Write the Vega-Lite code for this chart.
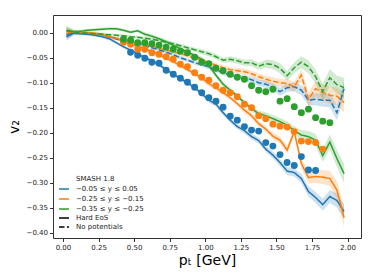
{
  "$schema": "https://vega.github.io/schema/vega-lite/v6.json",
  "width": 308,
  "height": 223,
  "autosize": "none",
  "padding": {"left": 53, "top": 15, "right": 13, "bottom": 42},
  "background": "white",
  "config": {
    "font": "DejaVu Sans",
    "view": {"stroke": "#333", "strokeWidth": 1},
    "axis": {"grid": false, "domain": false, "tickColor": "#333", "tickSize": 3.5, "labelFontSize": 7, "labelColor": "#222", "titleFontWeight": "normal", "titleColor": "#000", "titleFontSize": 14}
  },
  "datasets": {
    "lines": [
      {"x":0.025,"y":-0.008,"e":0.008,"bin":"−0.05 ≤ y ≤ 0.05","model":"Hard EoS"},
      {"x":0.075,"y":-0.001,"e":0.004,"bin":"−0.05 ≤ y ≤ 0.05","model":"Hard EoS"},
      {"x":0.125,"y":-0.002,"e":0.003,"bin":"−0.05 ≤ y ≤ 0.05","model":"Hard EoS"},
      {"x":0.175,"y":-0.003,"e":0.003,"bin":"−0.05 ≤ y ≤ 0.05","model":"Hard EoS"},
      {"x":0.225,"y":-0.005,"e":0.003,"bin":"−0.05 ≤ y ≤ 0.05","model":"Hard EoS"},
      {"x":0.275,"y":-0.008,"e":0.003,"bin":"−0.05 ≤ y ≤ 0.05","model":"Hard EoS"},
      {"x":0.325,"y":-0.012,"e":0.003,"bin":"−0.05 ≤ y ≤ 0.05","model":"Hard EoS"},
      {"x":0.375,"y":-0.020,"e":0.003,"bin":"−0.05 ≤ y ≤ 0.05","model":"Hard EoS"},
      {"x":0.425,"y":-0.028,"e":0.003,"bin":"−0.05 ≤ y ≤ 0.05","model":"Hard EoS"},
      {"x":0.475,"y":-0.035,"e":0.003,"bin":"−0.05 ≤ y ≤ 0.05","model":"Hard EoS"},
      {"x":0.525,"y":-0.042,"e":0.003,"bin":"−0.05 ≤ y ≤ 0.05","model":"Hard EoS"},
      {"x":0.575,"y":-0.050,"e":0.004,"bin":"−0.05 ≤ y ≤ 0.05","model":"Hard EoS"},
      {"x":0.625,"y":-0.056,"e":0.004,"bin":"−0.05 ≤ y ≤ 0.05","model":"Hard EoS"},
      {"x":0.675,"y":-0.064,"e":0.004,"bin":"−0.05 ≤ y ≤ 0.05","model":"Hard EoS"},
      {"x":0.725,"y":-0.074,"e":0.004,"bin":"−0.05 ≤ y ≤ 0.05","model":"Hard EoS"},
      {"x":0.775,"y":-0.083,"e":0.004,"bin":"−0.05 ≤ y ≤ 0.05","model":"Hard EoS"},
      {"x":0.825,"y":-0.092,"e":0.004,"bin":"−0.05 ≤ y ≤ 0.05","model":"Hard EoS"},
      {"x":0.875,"y":-0.100,"e":0.004,"bin":"−0.05 ≤ y ≤ 0.05","model":"Hard EoS"},
      {"x":0.925,"y":-0.110,"e":0.004,"bin":"−0.05 ≤ y ≤ 0.05","model":"Hard EoS"},
      {"x":0.975,"y":-0.122,"e":0.005,"bin":"−0.05 ≤ y ≤ 0.05","model":"Hard EoS"},
      {"x":1.025,"y":-0.135,"e":0.005,"bin":"−0.05 ≤ y ≤ 0.05","model":"Hard EoS"},
      {"x":1.075,"y":-0.143,"e":0.005,"bin":"−0.05 ≤ y ≤ 0.05","model":"Hard EoS"},
      {"x":1.125,"y":-0.160,"e":0.005,"bin":"−0.05 ≤ y ≤ 0.05","model":"Hard EoS"},
      {"x":1.175,"y":-0.175,"e":0.005,"bin":"−0.05 ≤ y ≤ 0.05","model":"Hard EoS"},
      {"x":1.225,"y":-0.188,"e":0.005,"bin":"−0.05 ≤ y ≤ 0.05","model":"Hard EoS"},
      {"x":1.275,"y":-0.196,"e":0.006,"bin":"−0.05 ≤ y ≤ 0.05","model":"Hard EoS"},
      {"x":1.325,"y":-0.208,"e":0.006,"bin":"−0.05 ≤ y ≤ 0.05","model":"Hard EoS"},
      {"x":1.375,"y":-0.216,"e":0.006,"bin":"−0.05 ≤ y ≤ 0.05","model":"Hard EoS"},
      {"x":1.425,"y":-0.233,"e":0.006,"bin":"−0.05 ≤ y ≤ 0.05","model":"Hard EoS"},
      {"x":1.475,"y":-0.245,"e":0.007,"bin":"−0.05 ≤ y ≤ 0.05","model":"Hard EoS"},
      {"x":1.525,"y":-0.260,"e":0.007,"bin":"−0.05 ≤ y ≤ 0.05","model":"Hard EoS"},
      {"x":1.575,"y":-0.277,"e":0.008,"bin":"−0.05 ≤ y ≤ 0.05","model":"Hard EoS"},
      {"x":1.625,"y":-0.280,"e":0.008,"bin":"−0.05 ≤ y ≤ 0.05","model":"Hard EoS"},
      {"x":1.675,"y":-0.292,"e":0.009,"bin":"−0.05 ≤ y ≤ 0.05","model":"Hard EoS"},
      {"x":1.725,"y":-0.318,"e":0.010,"bin":"−0.05 ≤ y ≤ 0.05","model":"Hard EoS"},
      {"x":1.775,"y":-0.330,"e":0.011,"bin":"−0.05 ≤ y ≤ 0.05","model":"Hard EoS"},
      {"x":1.825,"y":-0.344,"e":0.012,"bin":"−0.05 ≤ y ≤ 0.05","model":"Hard EoS"},
      {"x":1.875,"y":-0.328,"e":0.013,"bin":"−0.05 ≤ y ≤ 0.05","model":"Hard EoS"},
      {"x":1.925,"y":-0.336,"e":0.014,"bin":"−0.05 ≤ y ≤ 0.05","model":"Hard EoS"},
      {"x":1.975,"y":-0.358,"e":0.015,"bin":"−0.05 ≤ y ≤ 0.05","model":"Hard EoS"},

      {"x":0.025,"y":-0.003,"e":0.008,"bin":"−0.25 ≤ y ≤ −0.15","model":"Hard EoS"},
      {"x":0.075,"y":0.002,"e":0.004,"bin":"−0.25 ≤ y ≤ −0.15","model":"Hard EoS"},
      {"x":0.125,"y":0.000,"e":0.003,"bin":"−0.25 ≤ y ≤ −0.15","model":"Hard EoS"},
      {"x":0.175,"y":0.000,"e":0.003,"bin":"−0.25 ≤ y ≤ −0.15","model":"Hard EoS"},
      {"x":0.225,"y":-0.001,"e":0.003,"bin":"−0.25 ≤ y ≤ −0.15","model":"Hard EoS"},
      {"x":0.275,"y":-0.003,"e":0.003,"bin":"−0.25 ≤ y ≤ −0.15","model":"Hard EoS"},
      {"x":0.325,"y":-0.008,"e":0.003,"bin":"−0.25 ≤ y ≤ −0.15","model":"Hard EoS"},
      {"x":0.375,"y":-0.012,"e":0.003,"bin":"−0.25 ≤ y ≤ −0.15","model":"Hard EoS"},
      {"x":0.425,"y":-0.017,"e":0.003,"bin":"−0.25 ≤ y ≤ −0.15","model":"Hard EoS"},
      {"x":0.475,"y":-0.022,"e":0.003,"bin":"−0.25 ≤ y ≤ −0.15","model":"Hard EoS"},
      {"x":0.525,"y":-0.027,"e":0.003,"bin":"−0.25 ≤ y ≤ −0.15","model":"Hard EoS"},
      {"x":0.575,"y":-0.032,"e":0.004,"bin":"−0.25 ≤ y ≤ −0.15","model":"Hard EoS"},
      {"x":0.625,"y":-0.038,"e":0.004,"bin":"−0.25 ≤ y ≤ −0.15","model":"Hard EoS"},
      {"x":0.675,"y":-0.044,"e":0.004,"bin":"−0.25 ≤ y ≤ −0.15","model":"Hard EoS"},
      {"x":0.725,"y":-0.051,"e":0.004,"bin":"−0.25 ≤ y ≤ −0.15","model":"Hard EoS"},
      {"x":0.775,"y":-0.058,"e":0.004,"bin":"−0.25 ≤ y ≤ −0.15","model":"Hard EoS"},
      {"x":0.825,"y":-0.066,"e":0.004,"bin":"−0.25 ≤ y ≤ −0.15","model":"Hard EoS"},
      {"x":0.875,"y":-0.074,"e":0.004,"bin":"−0.25 ≤ y ≤ −0.15","model":"Hard EoS"},
      {"x":0.925,"y":-0.082,"e":0.004,"bin":"−0.25 ≤ y ≤ −0.15","model":"Hard EoS"},
      {"x":0.975,"y":-0.091,"e":0.005,"bin":"−0.25 ≤ y ≤ −0.15","model":"Hard EoS"},
      {"x":1.025,"y":-0.102,"e":0.005,"bin":"−0.25 ≤ y ≤ −0.15","model":"Hard EoS"},
      {"x":1.075,"y":-0.110,"e":0.005,"bin":"−0.25 ≤ y ≤ −0.15","model":"Hard EoS"},
      {"x":1.125,"y":-0.120,"e":0.005,"bin":"−0.25 ≤ y ≤ −0.15","model":"Hard EoS"},
      {"x":1.175,"y":-0.130,"e":0.005,"bin":"−0.25 ≤ y ≤ −0.15","model":"Hard EoS"},
      {"x":1.225,"y":-0.142,"e":0.005,"bin":"−0.25 ≤ y ≤ −0.15","model":"Hard EoS"},
      {"x":1.275,"y":-0.155,"e":0.006,"bin":"−0.25 ≤ y ≤ −0.15","model":"Hard EoS"},
      {"x":1.325,"y":-0.166,"e":0.006,"bin":"−0.25 ≤ y ≤ −0.15","model":"Hard EoS"},
      {"x":1.375,"y":-0.182,"e":0.006,"bin":"−0.25 ≤ y ≤ −0.15","model":"Hard EoS"},
      {"x":1.425,"y":-0.193,"e":0.006,"bin":"−0.25 ≤ y ≤ −0.15","model":"Hard EoS"},
      {"x":1.475,"y":-0.207,"e":0.007,"bin":"−0.25 ≤ y ≤ −0.15","model":"Hard EoS"},
      {"x":1.525,"y":-0.215,"e":0.007,"bin":"−0.25 ≤ y ≤ −0.15","model":"Hard EoS"},
      {"x":1.575,"y":-0.235,"e":0.008,"bin":"−0.25 ≤ y ≤ −0.15","model":"Hard EoS"},
      {"x":1.625,"y":-0.198,"e":0.008,"bin":"−0.25 ≤ y ≤ −0.15","model":"Hard EoS"},
      {"x":1.675,"y":-0.262,"e":0.010,"bin":"−0.25 ≤ y ≤ −0.15","model":"Hard EoS"},
      {"x":1.725,"y":-0.290,"e":0.012,"bin":"−0.25 ≤ y ≤ −0.15","model":"Hard EoS"},
      {"x":1.775,"y":-0.288,"e":0.013,"bin":"−0.25 ≤ y ≤ −0.15","model":"Hard EoS"},
      {"x":1.825,"y":-0.289,"e":0.014,"bin":"−0.25 ≤ y ≤ −0.15","model":"Hard EoS"},
      {"x":1.875,"y":-0.292,"e":0.015,"bin":"−0.25 ≤ y ≤ −0.15","model":"Hard EoS"},
      {"x":1.925,"y":-0.315,"e":0.018,"bin":"−0.25 ≤ y ≤ −0.15","model":"Hard EoS"},
      {"x":1.975,"y":-0.370,"e":0.020,"bin":"−0.25 ≤ y ≤ −0.15","model":"Hard EoS"},

      {"x":0.025,"y":0.005,"e":0.009,"bin":"−0.35 ≤ y ≤ −0.25","model":"Hard EoS"},
      {"x":0.075,"y":0.002,"e":0.004,"bin":"−0.35 ≤ y ≤ −0.25","model":"Hard EoS"},
      {"x":0.125,"y":0.003,"e":0.003,"bin":"−0.35 ≤ y ≤ −0.25","model":"Hard EoS"},
      {"x":0.175,"y":0.005,"e":0.003,"bin":"−0.35 ≤ y ≤ −0.25","model":"Hard EoS"},
      {"x":0.225,"y":0.006,"e":0.003,"bin":"−0.35 ≤ y ≤ −0.25","model":"Hard EoS"},
      {"x":0.275,"y":0.007,"e":0.003,"bin":"−0.35 ≤ y ≤ −0.25","model":"Hard EoS"},
      {"x":0.325,"y":0.008,"e":0.003,"bin":"−0.35 ≤ y ≤ −0.25","model":"Hard EoS"},
      {"x":0.375,"y":0.008,"e":0.003,"bin":"−0.35 ≤ y ≤ −0.25","model":"Hard EoS"},
      {"x":0.425,"y":0.005,"e":0.003,"bin":"−0.35 ≤ y ≤ −0.25","model":"Hard EoS"},
      {"x":0.475,"y":0.001,"e":0.003,"bin":"−0.35 ≤ y ≤ −0.25","model":"Hard EoS"},
      {"x":0.525,"y":0.004,"e":0.003,"bin":"−0.35 ≤ y ≤ −0.25","model":"Hard EoS"},
      {"x":0.575,"y":-0.003,"e":0.004,"bin":"−0.35 ≤ y ≤ −0.25","model":"Hard EoS"},
      {"x":0.625,"y":-0.007,"e":0.004,"bin":"−0.35 ≤ y ≤ −0.25","model":"Hard EoS"},
      {"x":0.675,"y":-0.012,"e":0.004,"bin":"−0.35 ≤ y ≤ −0.25","model":"Hard EoS"},
      {"x":0.725,"y":-0.018,"e":0.004,"bin":"−0.35 ≤ y ≤ −0.25","model":"Hard EoS"},
      {"x":0.775,"y":-0.025,"e":0.004,"bin":"−0.35 ≤ y ≤ −0.25","model":"Hard EoS"},
      {"x":0.825,"y":-0.032,"e":0.004,"bin":"−0.35 ≤ y ≤ −0.25","model":"Hard EoS"},
      {"x":0.875,"y":-0.039,"e":0.004,"bin":"−0.35 ≤ y ≤ −0.25","model":"Hard EoS"},
      {"x":0.925,"y":-0.045,"e":0.004,"bin":"−0.35 ≤ y ≤ −0.25","model":"Hard EoS"},
      {"x":0.975,"y":-0.053,"e":0.005,"bin":"−0.35 ≤ y ≤ −0.25","model":"Hard EoS"},
      {"x":1.025,"y":-0.066,"e":0.005,"bin":"−0.35 ≤ y ≤ −0.25","model":"Hard EoS"},
      {"x":1.075,"y":-0.085,"e":0.005,"bin":"−0.35 ≤ y ≤ −0.25","model":"Hard EoS"},
      {"x":1.125,"y":-0.103,"e":0.005,"bin":"−0.35 ≤ y ≤ −0.25","model":"Hard EoS"},
      {"x":1.175,"y":-0.115,"e":0.005,"bin":"−0.35 ≤ y ≤ −0.25","model":"Hard EoS"},
      {"x":1.225,"y":-0.127,"e":0.005,"bin":"−0.35 ≤ y ≤ −0.25","model":"Hard EoS"},
      {"x":1.275,"y":-0.140,"e":0.006,"bin":"−0.35 ≤ y ≤ −0.25","model":"Hard EoS"},
      {"x":1.325,"y":-0.152,"e":0.006,"bin":"−0.35 ≤ y ≤ −0.25","model":"Hard EoS"},
      {"x":1.375,"y":-0.162,"e":0.006,"bin":"−0.35 ≤ y ≤ −0.25","model":"Hard EoS"},
      {"x":1.425,"y":-0.166,"e":0.007,"bin":"−0.35 ≤ y ≤ −0.25","model":"Hard EoS"},
      {"x":1.475,"y":-0.172,"e":0.007,"bin":"−0.35 ≤ y ≤ −0.25","model":"Hard EoS"},
      {"x":1.525,"y":-0.178,"e":0.008,"bin":"−0.35 ≤ y ≤ −0.25","model":"Hard EoS"},
      {"x":1.575,"y":-0.185,"e":0.008,"bin":"−0.35 ≤ y ≤ −0.25","model":"Hard EoS"},
      {"x":1.625,"y":-0.196,"e":0.009,"bin":"−0.35 ≤ y ≤ −0.25","model":"Hard EoS"},
      {"x":1.675,"y":-0.205,"e":0.010,"bin":"−0.35 ≤ y ≤ −0.25","model":"Hard EoS"},
      {"x":1.725,"y":-0.208,"e":0.011,"bin":"−0.35 ≤ y ≤ −0.25","model":"Hard EoS"},
      {"x":1.775,"y":-0.215,"e":0.012,"bin":"−0.35 ≤ y ≤ −0.25","model":"Hard EoS"},
      {"x":1.825,"y":-0.246,"e":0.013,"bin":"−0.35 ≤ y ≤ −0.25","model":"Hard EoS"},
      {"x":1.875,"y":-0.219,"e":0.015,"bin":"−0.35 ≤ y ≤ −0.25","model":"Hard EoS"},
      {"x":1.925,"y":-0.252,"e":0.017,"bin":"−0.35 ≤ y ≤ −0.25","model":"Hard EoS"},
      {"x":1.975,"y":-0.282,"e":0.019,"bin":"−0.35 ≤ y ≤ −0.25","model":"Hard EoS"},

      {"x":0.025,"y":-0.005,"e":0.008,"bin":"−0.05 ≤ y ≤ 0.05","model":"No potentials"},
      {"x":0.075,"y":0.000,"e":0.004,"bin":"−0.05 ≤ y ≤ 0.05","model":"No potentials"},
      {"x":0.125,"y":-0.001,"e":0.003,"bin":"−0.05 ≤ y ≤ 0.05","model":"No potentials"},
      {"x":0.175,"y":-0.002,"e":0.003,"bin":"−0.05 ≤ y ≤ 0.05","model":"No potentials"},
      {"x":0.225,"y":-0.003,"e":0.003,"bin":"−0.05 ≤ y ≤ 0.05","model":"No potentials"},
      {"x":0.275,"y":-0.005,"e":0.003,"bin":"−0.05 ≤ y ≤ 0.05","model":"No potentials"},
      {"x":0.325,"y":-0.008,"e":0.003,"bin":"−0.05 ≤ y ≤ 0.05","model":"No potentials"},
      {"x":0.375,"y":-0.012,"e":0.003,"bin":"−0.05 ≤ y ≤ 0.05","model":"No potentials"},
      {"x":0.425,"y":-0.015,"e":0.003,"bin":"−0.05 ≤ y ≤ 0.05","model":"No potentials"},
      {"x":0.475,"y":-0.019,"e":0.003,"bin":"−0.05 ≤ y ≤ 0.05","model":"No potentials"},
      {"x":0.525,"y":-0.022,"e":0.003,"bin":"−0.05 ≤ y ≤ 0.05","model":"No potentials"},
      {"x":0.575,"y":-0.026,"e":0.003,"bin":"−0.05 ≤ y ≤ 0.05","model":"No potentials"},
      {"x":0.625,"y":-0.030,"e":0.003,"bin":"−0.05 ≤ y ≤ 0.05","model":"No potentials"},
      {"x":0.675,"y":-0.034,"e":0.003,"bin":"−0.05 ≤ y ≤ 0.05","model":"No potentials"},
      {"x":0.725,"y":-0.039,"e":0.003,"bin":"−0.05 ≤ y ≤ 0.05","model":"No potentials"},
      {"x":0.775,"y":-0.044,"e":0.004,"bin":"−0.05 ≤ y ≤ 0.05","model":"No potentials"},
      {"x":0.825,"y":-0.050,"e":0.004,"bin":"−0.05 ≤ y ≤ 0.05","model":"No potentials"},
      {"x":0.875,"y":-0.055,"e":0.004,"bin":"−0.05 ≤ y ≤ 0.05","model":"No potentials"},
      {"x":0.925,"y":-0.060,"e":0.004,"bin":"−0.05 ≤ y ≤ 0.05","model":"No potentials"},
      {"x":0.975,"y":-0.064,"e":0.004,"bin":"−0.05 ≤ y ≤ 0.05","model":"No potentials"},
      {"x":1.025,"y":-0.068,"e":0.005,"bin":"−0.05 ≤ y ≤ 0.05","model":"No potentials"},
      {"x":1.075,"y":-0.074,"e":0.005,"bin":"−0.05 ≤ y ≤ 0.05","model":"No potentials"},
      {"x":1.125,"y":-0.080,"e":0.005,"bin":"−0.05 ≤ y ≤ 0.05","model":"No potentials"},
      {"x":1.175,"y":-0.085,"e":0.005,"bin":"−0.05 ≤ y ≤ 0.05","model":"No potentials"},
      {"x":1.225,"y":-0.088,"e":0.005,"bin":"−0.05 ≤ y ≤ 0.05","model":"No potentials"},
      {"x":1.275,"y":-0.091,"e":0.006,"bin":"−0.05 ≤ y ≤ 0.05","model":"No potentials"},
      {"x":1.325,"y":-0.094,"e":0.006,"bin":"−0.05 ≤ y ≤ 0.05","model":"No potentials"},
      {"x":1.375,"y":-0.100,"e":0.006,"bin":"−0.05 ≤ y ≤ 0.05","model":"No potentials"},
      {"x":1.425,"y":-0.103,"e":0.007,"bin":"−0.05 ≤ y ≤ 0.05","model":"No potentials"},
      {"x":1.475,"y":-0.108,"e":0.007,"bin":"−0.05 ≤ y ≤ 0.05","model":"No potentials"},
      {"x":1.525,"y":-0.118,"e":0.008,"bin":"−0.05 ≤ y ≤ 0.05","model":"No potentials"},
      {"x":1.575,"y":-0.110,"e":0.008,"bin":"−0.05 ≤ y ≤ 0.05","model":"No potentials"},
      {"x":1.625,"y":-0.108,"e":0.009,"bin":"−0.05 ≤ y ≤ 0.05","model":"No potentials"},
      {"x":1.675,"y":-0.115,"e":0.010,"bin":"−0.05 ≤ y ≤ 0.05","model":"No potentials"},
      {"x":1.725,"y":-0.135,"e":0.011,"bin":"−0.05 ≤ y ≤ 0.05","model":"No potentials"},
      {"x":1.775,"y":-0.133,"e":0.012,"bin":"−0.05 ≤ y ≤ 0.05","model":"No potentials"},
      {"x":1.825,"y":-0.135,"e":0.013,"bin":"−0.05 ≤ y ≤ 0.05","model":"No potentials"},
      {"x":1.875,"y":-0.135,"e":0.014,"bin":"−0.05 ≤ y ≤ 0.05","model":"No potentials"},
      {"x":1.925,"y":-0.160,"e":0.015,"bin":"−0.05 ≤ y ≤ 0.05","model":"No potentials"},
      {"x":1.975,"y":-0.112,"e":0.016,"bin":"−0.05 ≤ y ≤ 0.05","model":"No potentials"},

      {"x":0.025,"y":0.002,"e":0.008,"bin":"−0.25 ≤ y ≤ −0.15","model":"No potentials"},
      {"x":0.075,"y":0.001,"e":0.004,"bin":"−0.25 ≤ y ≤ −0.15","model":"No potentials"},
      {"x":0.125,"y":0.000,"e":0.003,"bin":"−0.25 ≤ y ≤ −0.15","model":"No potentials"},
      {"x":0.175,"y":-0.001,"e":0.003,"bin":"−0.25 ≤ y ≤ −0.15","model":"No potentials"},
      {"x":0.225,"y":-0.003,"e":0.003,"bin":"−0.25 ≤ y ≤ −0.15","model":"No potentials"},
      {"x":0.275,"y":-0.005,"e":0.003,"bin":"−0.25 ≤ y ≤ −0.15","model":"No potentials"},
      {"x":0.325,"y":-0.008,"e":0.003,"bin":"−0.25 ≤ y ≤ −0.15","model":"No potentials"},
      {"x":0.375,"y":-0.011,"e":0.003,"bin":"−0.25 ≤ y ≤ −0.15","model":"No potentials"},
      {"x":0.425,"y":-0.014,"e":0.003,"bin":"−0.25 ≤ y ≤ −0.15","model":"No potentials"},
      {"x":0.475,"y":-0.017,"e":0.003,"bin":"−0.25 ≤ y ≤ −0.15","model":"No potentials"},
      {"x":0.525,"y":-0.020,"e":0.003,"bin":"−0.25 ≤ y ≤ −0.15","model":"No potentials"},
      {"x":0.575,"y":-0.023,"e":0.003,"bin":"−0.25 ≤ y ≤ −0.15","model":"No potentials"},
      {"x":0.625,"y":-0.027,"e":0.003,"bin":"−0.25 ≤ y ≤ −0.15","model":"No potentials"},
      {"x":0.675,"y":-0.031,"e":0.003,"bin":"−0.25 ≤ y ≤ −0.15","model":"No potentials"},
      {"x":0.725,"y":-0.035,"e":0.003,"bin":"−0.25 ≤ y ≤ −0.15","model":"No potentials"},
      {"x":0.775,"y":-0.038,"e":0.004,"bin":"−0.25 ≤ y ≤ −0.15","model":"No potentials"},
      {"x":0.825,"y":-0.042,"e":0.004,"bin":"−0.25 ≤ y ≤ −0.15","model":"No potentials"},
      {"x":0.875,"y":-0.046,"e":0.004,"bin":"−0.25 ≤ y ≤ −0.15","model":"No potentials"},
      {"x":0.925,"y":-0.050,"e":0.004,"bin":"−0.25 ≤ y ≤ −0.15","model":"No potentials"},
      {"x":0.975,"y":-0.055,"e":0.004,"bin":"−0.25 ≤ y ≤ −0.15","model":"No potentials"},
      {"x":1.025,"y":-0.060,"e":0.005,"bin":"−0.25 ≤ y ≤ −0.15","model":"No potentials"},
      {"x":1.075,"y":-0.065,"e":0.005,"bin":"−0.25 ≤ y ≤ −0.15","model":"No potentials"},
      {"x":1.125,"y":-0.070,"e":0.005,"bin":"−0.25 ≤ y ≤ −0.15","model":"No potentials"},
      {"x":1.175,"y":-0.074,"e":0.005,"bin":"−0.25 ≤ y ≤ −0.15","model":"No potentials"},
      {"x":1.225,"y":-0.076,"e":0.006,"bin":"−0.25 ≤ y ≤ −0.15","model":"No potentials"},
      {"x":1.275,"y":-0.078,"e":0.006,"bin":"−0.25 ≤ y ≤ −0.15","model":"No potentials"},
      {"x":1.325,"y":-0.082,"e":0.006,"bin":"−0.25 ≤ y ≤ −0.15","model":"No potentials"},
      {"x":1.375,"y":-0.088,"e":0.007,"bin":"−0.25 ≤ y ≤ −0.15","model":"No potentials"},
      {"x":1.425,"y":-0.093,"e":0.007,"bin":"−0.25 ≤ y ≤ −0.15","model":"No potentials"},
      {"x":1.475,"y":-0.097,"e":0.008,"bin":"−0.25 ≤ y ≤ −0.15","model":"No potentials"},
      {"x":1.525,"y":-0.100,"e":0.008,"bin":"−0.25 ≤ y ≤ −0.15","model":"No potentials"},
      {"x":1.575,"y":-0.102,"e":0.009,"bin":"−0.25 ≤ y ≤ −0.15","model":"No potentials"},
      {"x":1.625,"y":-0.108,"e":0.010,"bin":"−0.25 ≤ y ≤ −0.15","model":"No potentials"},
      {"x":1.675,"y":-0.085,"e":0.012,"bin":"−0.25 ≤ y ≤ −0.15","model":"No potentials"},
      {"x":1.725,"y":-0.133,"e":0.014,"bin":"−0.25 ≤ y ≤ −0.15","model":"No potentials"},
      {"x":1.775,"y":-0.112,"e":0.015,"bin":"−0.25 ≤ y ≤ −0.15","model":"No potentials"},
      {"x":1.825,"y":-0.120,"e":0.016,"bin":"−0.25 ≤ y ≤ −0.15","model":"No potentials"},
      {"x":1.875,"y":-0.125,"e":0.017,"bin":"−0.25 ≤ y ≤ −0.15","model":"No potentials"},
      {"x":1.925,"y":-0.127,"e":0.018,"bin":"−0.25 ≤ y ≤ −0.15","model":"No potentials"},
      {"x":1.975,"y":-0.140,"e":0.020,"bin":"−0.25 ≤ y ≤ −0.15","model":"No potentials"},

      {"x":0.025,"y":0.004,"e":0.008,"bin":"−0.35 ≤ y ≤ −0.25","model":"No potentials"},
      {"x":0.075,"y":0.001,"e":0.004,"bin":"−0.35 ≤ y ≤ −0.25","model":"No potentials"},
      {"x":0.125,"y":0.000,"e":0.003,"bin":"−0.35 ≤ y ≤ −0.25","model":"No potentials"},
      {"x":0.175,"y":-0.001,"e":0.003,"bin":"−0.35 ≤ y ≤ −0.25","model":"No potentials"},
      {"x":0.225,"y":-0.002,"e":0.003,"bin":"−0.35 ≤ y ≤ −0.25","model":"No potentials"},
      {"x":0.275,"y":-0.003,"e":0.003,"bin":"−0.35 ≤ y ≤ −0.25","model":"No potentials"},
      {"x":0.325,"y":-0.004,"e":0.003,"bin":"−0.35 ≤ y ≤ −0.25","model":"No potentials"},
      {"x":0.375,"y":-0.005,"e":0.003,"bin":"−0.35 ≤ y ≤ −0.25","model":"No potentials"},
      {"x":0.425,"y":-0.006,"e":0.003,"bin":"−0.35 ≤ y ≤ −0.25","model":"No potentials"},
      {"x":0.475,"y":-0.008,"e":0.003,"bin":"−0.35 ≤ y ≤ −0.25","model":"No potentials"},
      {"x":0.525,"y":-0.009,"e":0.003,"bin":"−0.35 ≤ y ≤ −0.25","model":"No potentials"},
      {"x":0.575,"y":-0.011,"e":0.003,"bin":"−0.35 ≤ y ≤ −0.25","model":"No potentials"},
      {"x":0.625,"y":-0.013,"e":0.003,"bin":"−0.35 ≤ y ≤ −0.25","model":"No potentials"},
      {"x":0.675,"y":-0.016,"e":0.003,"bin":"−0.35 ≤ y ≤ −0.25","model":"No potentials"},
      {"x":0.725,"y":-0.019,"e":0.004,"bin":"−0.35 ≤ y ≤ −0.25","model":"No potentials"},
      {"x":0.775,"y":-0.022,"e":0.004,"bin":"−0.35 ≤ y ≤ −0.25","model":"No potentials"},
      {"x":0.825,"y":-0.026,"e":0.004,"bin":"−0.35 ≤ y ≤ −0.25","model":"No potentials"},
      {"x":0.875,"y":-0.030,"e":0.004,"bin":"−0.35 ≤ y ≤ −0.25","model":"No potentials"},
      {"x":0.925,"y":-0.034,"e":0.004,"bin":"−0.35 ≤ y ≤ −0.25","model":"No potentials"},
      {"x":0.975,"y":-0.038,"e":0.005,"bin":"−0.35 ≤ y ≤ −0.25","model":"No potentials"},
      {"x":1.025,"y":-0.042,"e":0.005,"bin":"−0.35 ≤ y ≤ −0.25","model":"No potentials"},
      {"x":1.075,"y":-0.048,"e":0.005,"bin":"−0.35 ≤ y ≤ −0.25","model":"No potentials"},
      {"x":1.125,"y":-0.055,"e":0.005,"bin":"−0.35 ≤ y ≤ −0.25","model":"No potentials"},
      {"x":1.175,"y":-0.053,"e":0.006,"bin":"−0.35 ≤ y ≤ −0.25","model":"No potentials"},
      {"x":1.225,"y":-0.056,"e":0.006,"bin":"−0.35 ≤ y ≤ −0.25","model":"No potentials"},
      {"x":1.275,"y":-0.060,"e":0.006,"bin":"−0.35 ≤ y ≤ −0.25","model":"No potentials"},
      {"x":1.325,"y":-0.060,"e":0.007,"bin":"−0.35 ≤ y ≤ −0.25","model":"No potentials"},
      {"x":1.375,"y":-0.067,"e":0.007,"bin":"−0.35 ≤ y ≤ −0.25","model":"No potentials"},
      {"x":1.425,"y":-0.062,"e":0.008,"bin":"−0.35 ≤ y ≤ −0.25","model":"No potentials"},
      {"x":1.475,"y":-0.064,"e":0.009,"bin":"−0.35 ≤ y ≤ −0.25","model":"No potentials"},
      {"x":1.525,"y":-0.071,"e":0.010,"bin":"−0.35 ≤ y ≤ −0.25","model":"No potentials"},
      {"x":1.575,"y":-0.086,"e":0.010,"bin":"−0.35 ≤ y ≤ −0.25","model":"No potentials"},
      {"x":1.625,"y":-0.070,"e":0.011,"bin":"−0.35 ≤ y ≤ −0.25","model":"No potentials"},
      {"x":1.675,"y":-0.059,"e":0.012,"bin":"−0.35 ≤ y ≤ −0.25","model":"No potentials"},
      {"x":1.725,"y":-0.068,"e":0.013,"bin":"−0.35 ≤ y ≤ −0.25","model":"No potentials"},
      {"x":1.775,"y":-0.088,"e":0.014,"bin":"−0.35 ≤ y ≤ −0.25","model":"No potentials"},
      {"x":1.825,"y":-0.118,"e":0.016,"bin":"−0.35 ≤ y ≤ −0.25","model":"No potentials"},
      {"x":1.875,"y":-0.090,"e":0.017,"bin":"−0.35 ≤ y ≤ −0.25","model":"No potentials"},
      {"x":1.925,"y":-0.104,"e":0.018,"bin":"−0.35 ≤ y ≤ −0.25","model":"No potentials"},
      {"x":1.975,"y":-0.110,"e":0.020,"bin":"−0.35 ≤ y ≤ −0.25","model":"No potentials"}
    ],
    "points": [
      {"x":0.475,"y":-0.039,"bin":"−0.05 ≤ y ≤ 0.05"},
      {"x":0.525,"y":-0.045,"bin":"−0.05 ≤ y ≤ 0.05"},
      {"x":0.575,"y":-0.051,"bin":"−0.05 ≤ y ≤ 0.05"},
      {"x":0.625,"y":-0.059,"bin":"−0.05 ≤ y ≤ 0.05"},
      {"x":0.675,"y":-0.061,"bin":"−0.05 ≤ y ≤ 0.05"},
      {"x":0.725,"y":-0.075,"bin":"−0.05 ≤ y ≤ 0.05"},
      {"x":0.775,"y":-0.083,"bin":"−0.05 ≤ y ≤ 0.05"},
      {"x":0.825,"y":-0.091,"bin":"−0.05 ≤ y ≤ 0.05"},
      {"x":0.875,"y":-0.099,"bin":"−0.05 ≤ y ≤ 0.05"},
      {"x":0.925,"y":-0.109,"bin":"−0.05 ≤ y ≤ 0.05"},
      {"x":0.975,"y":-0.120,"bin":"−0.05 ≤ y ≤ 0.05"},
      {"x":1.025,"y":-0.130,"bin":"−0.05 ≤ y ≤ 0.05"},
      {"x":1.075,"y":-0.137,"bin":"−0.05 ≤ y ≤ 0.05"},
      {"x":1.125,"y":-0.149,"bin":"−0.05 ≤ y ≤ 0.05"},
      {"x":1.175,"y":-0.167,"bin":"−0.05 ≤ y ≤ 0.05"},
      {"x":1.225,"y":-0.175,"bin":"−0.05 ≤ y ≤ 0.05"},
      {"x":1.275,"y":-0.188,"bin":"−0.05 ≤ y ≤ 0.05"},
      {"x":1.325,"y":-0.195,"bin":"−0.05 ≤ y ≤ 0.05"},
      {"x":1.375,"y":-0.197,"bin":"−0.05 ≤ y ≤ 0.05"},
      {"x":1.425,"y":-0.220,"bin":"−0.05 ≤ y ≤ 0.05"},
      {"x":1.475,"y":-0.227,"bin":"−0.05 ≤ y ≤ 0.05"},
      {"x":1.525,"y":-0.244,"bin":"−0.05 ≤ y ≤ 0.05"},
      {"x":1.575,"y":-0.260,"bin":"−0.05 ≤ y ≤ 0.05"},
      {"x":1.625,"y":-0.266,"bin":"−0.05 ≤ y ≤ 0.05"},
      {"x":1.675,"y":-0.248,"bin":"−0.05 ≤ y ≤ 0.05"},
      {"x":1.725,"y":-0.275,"bin":"−0.05 ≤ y ≤ 0.05"},
      {"x":1.775,"y":-0.276,"bin":"−0.05 ≤ y ≤ 0.05"},

      {"x":0.425,"y":-0.019,"bin":"−0.25 ≤ y ≤ −0.15"},
      {"x":0.475,"y":-0.023,"bin":"−0.25 ≤ y ≤ −0.15"},
      {"x":0.525,"y":-0.033,"bin":"−0.25 ≤ y ≤ −0.15"},
      {"x":0.575,"y":-0.033,"bin":"−0.25 ≤ y ≤ −0.15"},
      {"x":0.625,"y":-0.040,"bin":"−0.25 ≤ y ≤ −0.15"},
      {"x":0.675,"y":-0.043,"bin":"−0.25 ≤ y ≤ −0.15"},
      {"x":0.725,"y":-0.048,"bin":"−0.25 ≤ y ≤ −0.15"},
      {"x":0.775,"y":-0.053,"bin":"−0.25 ≤ y ≤ −0.15"},
      {"x":0.825,"y":-0.063,"bin":"−0.25 ≤ y ≤ −0.15"},
      {"x":0.875,"y":-0.068,"bin":"−0.25 ≤ y ≤ −0.15"},
      {"x":0.925,"y":-0.080,"bin":"−0.25 ≤ y ≤ −0.15"},
      {"x":0.975,"y":-0.089,"bin":"−0.25 ≤ y ≤ −0.15"},
      {"x":1.025,"y":-0.095,"bin":"−0.25 ≤ y ≤ −0.15"},
      {"x":1.075,"y":-0.106,"bin":"−0.25 ≤ y ≤ −0.15"},
      {"x":1.125,"y":-0.115,"bin":"−0.25 ≤ y ≤ −0.15"},
      {"x":1.175,"y":-0.120,"bin":"−0.25 ≤ y ≤ −0.15"},
      {"x":1.225,"y":-0.128,"bin":"−0.25 ≤ y ≤ −0.15"},
      {"x":1.275,"y":-0.143,"bin":"−0.25 ≤ y ≤ −0.15"},
      {"x":1.325,"y":-0.150,"bin":"−0.25 ≤ y ≤ −0.15"},
      {"x":1.375,"y":-0.166,"bin":"−0.25 ≤ y ≤ −0.15"},
      {"x":1.425,"y":-0.172,"bin":"−0.25 ≤ y ≤ −0.15"},
      {"x":1.475,"y":-0.183,"bin":"−0.25 ≤ y ≤ −0.15"},
      {"x":1.525,"y":-0.187,"bin":"−0.25 ≤ y ≤ −0.15"},
      {"x":1.575,"y":-0.189,"bin":"−0.25 ≤ y ≤ −0.15"},
      {"x":1.625,"y":-0.198,"bin":"−0.25 ≤ y ≤ −0.15"},
      {"x":1.675,"y":-0.217,"bin":"−0.25 ≤ y ≤ −0.15"},
      {"x":1.725,"y":-0.218,"bin":"−0.25 ≤ y ≤ −0.15"},
      {"x":1.775,"y":-0.220,"bin":"−0.25 ≤ y ≤ −0.15"},
      {"x":1.825,"y":-0.233,"bin":"−0.25 ≤ y ≤ −0.15"},

      {"x":0.425,"y":-0.013,"bin":"−0.35 ≤ y ≤ −0.25"},
      {"x":0.475,"y":-0.015,"bin":"−0.35 ≤ y ≤ −0.25"},
      {"x":0.525,"y":-0.020,"bin":"−0.35 ≤ y ≤ −0.25"},
      {"x":0.575,"y":-0.020,"bin":"−0.35 ≤ y ≤ −0.25"},
      {"x":0.625,"y":-0.022,"bin":"−0.35 ≤ y ≤ −0.25"},
      {"x":0.675,"y":-0.025,"bin":"−0.35 ≤ y ≤ −0.25"},
      {"x":0.725,"y":-0.029,"bin":"−0.35 ≤ y ≤ −0.25"},
      {"x":0.775,"y":-0.033,"bin":"−0.35 ≤ y ≤ −0.25"},
      {"x":0.825,"y":-0.037,"bin":"−0.35 ≤ y ≤ −0.25"},
      {"x":0.875,"y":-0.040,"bin":"−0.35 ≤ y ≤ −0.25"},
      {"x":0.925,"y":-0.049,"bin":"−0.35 ≤ y ≤ −0.25"},
      {"x":0.975,"y":-0.059,"bin":"−0.35 ≤ y ≤ −0.25"},
      {"x":1.025,"y":-0.062,"bin":"−0.35 ≤ y ≤ −0.25"},
      {"x":1.075,"y":-0.071,"bin":"−0.35 ≤ y ≤ −0.25"},
      {"x":1.125,"y":-0.076,"bin":"−0.35 ≤ y ≤ −0.25"},
      {"x":1.175,"y":-0.083,"bin":"−0.35 ≤ y ≤ −0.25"},
      {"x":1.225,"y":-0.089,"bin":"−0.35 ≤ y ≤ −0.25"},
      {"x":1.275,"y":-0.093,"bin":"−0.35 ≤ y ≤ −0.25"},
      {"x":1.325,"y":-0.106,"bin":"−0.35 ≤ y ≤ −0.25"},
      {"x":1.375,"y":-0.115,"bin":"−0.35 ≤ y ≤ −0.25"},
      {"x":1.425,"y":-0.118,"bin":"−0.35 ≤ y ≤ −0.25"},
      {"x":1.475,"y":-0.113,"bin":"−0.35 ≤ y ≤ −0.25"},
      {"x":1.525,"y":-0.137,"bin":"−0.35 ≤ y ≤ −0.25"},
      {"x":1.575,"y":-0.132,"bin":"−0.35 ≤ y ≤ −0.25"},
      {"x":1.625,"y":-0.148,"bin":"−0.35 ≤ y ≤ −0.25"},
      {"x":1.675,"y":-0.160,"bin":"−0.35 ≤ y ≤ −0.25"},
      {"x":1.725,"y":-0.153,"bin":"−0.35 ≤ y ≤ −0.25"},
      {"x":1.775,"y":-0.170,"bin":"−0.35 ≤ y ≤ −0.25"},
      {"x":1.825,"y":-0.177,"bin":"−0.35 ≤ y ≤ −0.25"},
      {"x":1.875,"y":-0.180,"bin":"−0.35 ≤ y ≤ −0.25"}
    ]
  },
  "encoding": {
    "x": {"field": "x", "type": "quantitative", "scale": {"domain": [-0.07, 2.094], "nice": false, "zero": false},
      "axis": {"values": [0, 0.25, 0.5, 0.75, 1, 1.25, 1.5, 1.75, 2], "format": ".2f", "title": "pₜ [GeV]", "titlePadding": 3}},
    "y": {"field": "y", "type": "quantitative", "scale": {"domain": [-0.411, 0.0355], "nice": false, "zero": false},
      "axis": {"values": [0, -0.05, -0.1, -0.15, -0.2, -0.25, -0.3, -0.35, -0.4], "format": ".2f", "title": "v₂", "titlePadding": 5}},
    "color": {"field": "bin", "type": "nominal",
      "scale": {"domain": ["SMASH 1.8", "−0.05 ≤ y ≤ 0.05", "−0.25 ≤ y ≤ −0.15", "−0.35 ≤ y ≤ −0.25"], "range": ["rgba(255,255,255,0)", "#1f77b4", "#ff7f0e", "#2ca02c"]},
      "legend": {"title": null, "orient": "none", "legendX": 5, "legendY": 158, "symbolType": "stroke", "symbolSize": 100, "symbolStrokeWidth": 1.5, "symbolOpacity": 1, "labelFontSize": 7, "labelColor": "#222", "rowPadding": 1, "labelOffset": 6}}
  },
  "layer": [
    {
      "data": {"name": "lines"},
      "mark": {"type": "errorband", "band": {"opacity": 0.22}},
      "encoding": {
        "yError": {"field": "e"},
        "detail": {"field": "model"}
      }
    },
    {
      "data": {"name": "lines"},
      "mark": {"type": "line", "strokeWidth": 1.5},
      "encoding": {
        "strokeDash": {"field": "model", "type": "nominal",
          "scale": {"domain": ["Hard EoS", "No potentials"], "range": [[1, 0], [5.5, 2.4]]},
          "legend": {"title": null, "orient": "none", "legendX": 5, "legendY": 197, "symbolType": "stroke", "symbolSize": 100, "symbolStrokeWidth": 1.5, "symbolStrokeColor": "black", "symbolOpacity": 1, "labelFontSize": 7, "labelColor": "#222", "rowPadding": 0, "labelOffset": 6}}
      }
    },
    {
      "data": {"name": "points"},
      "mark": {"type": "point", "filled": true, "opacity": 1, "size": 48}
    }
  ]
}
